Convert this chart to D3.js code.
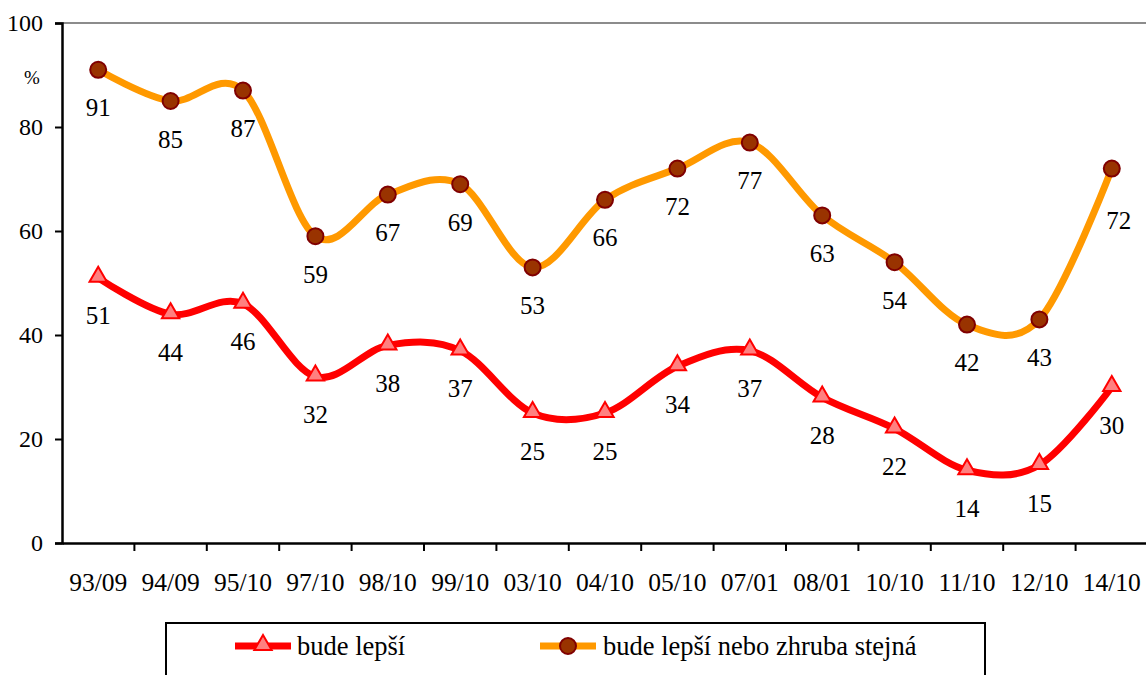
<!DOCTYPE html>
<html>
<head>
<meta charset="utf-8">
<script src="https://cdn.jsdelivr.net/npm/d3@7"></script>
<style>
  body { margin: 0; background: #fff; }
  svg text { font-family: "Liberation Serif", "Times New Roman", serif; }
</style>
</head>
<body>
<div id="chart"></div>
<script>
// survey periods (x axis)
var periods = ["93/09", "94/09", "95/10", "97/10", "98/10", "99/10", "03/10", "04/10",
               "05/10", "07/01", "08/01", "10/10", "11/10", "12/10", "14/10"];
// "bude lepší"
var better = [51, 44, 46, 32, 38, 37, 25, 25, 34, 37, 28, 22, 14, 15, 30];
// "bude lepší nebo zhruba stejná"
var betterOrSame = [91, 85, 87, 59, 67, 69, 53, 66, 72, 77, 63, 54, 42, 43, 72];
var yTicks = [0, 20, 40, 60, 80, 100];

var width = 1146, height = 675;
var colorRed = "#ff0000", colorOrange = "#ff9900";

var svg = d3.select("#chart").append("svg")
    .attr("width", width)
    .attr("height", height);

var x = d3.scaleBand()
    .domain(periods)
    .range([62, 1148]);

var y = d3.scaleLinear()
    .domain([0, 100])
    .range([543, 23]);

var cx = function(d, i) { return x(periods[i]) + x.bandwidth() / 2; };

// top frame line (grey)
svg.append("line")
    .attr("x1", 62).attr("x2", width)
    .attr("y1", y(100)).attr("y2", y(100))
    .style("stroke", "#8c8c8c")
    .style("stroke-width", 2);

// y axis
var yAxis = svg.append("g")
    .attr("transform", "translate(62,0)")
    .call(d3.axisLeft(y).tickValues(yTicks).tickSize(7).tickPadding(12));
yAxis.attr("font-family", null);
yAxis.select(".domain").style("stroke-width", 2.5);
yAxis.selectAll(".tick line").style("stroke-width", 2);
yAxis.selectAll(".tick text")
    .style("font-size", "24px");

svg.append("text")
    .attr("x", 32).attr("y", 77)
    .attr("text-anchor", "middle")
    .attr("dominant-baseline", "central")
    .style("font-size", "19px")
    .text("%");

// x axis, ticks between categories
var xAxis = svg.append("g")
    .attr("transform", "translate(0," + y(0) + ")")
    .call(d3.axisBottom(x).tickSize(0).tickPadding(30));
xAxis.attr("font-family", null);
xAxis.select(".domain").style("stroke-width", 2.5);
xAxis.selectAll(".tick text")
    .style("font-size", "25.5px");
xAxis.selectAll(".sep")
    .data(periods.slice(1))
    .enter().append("line")
    .attr("class", "sep")
    .attr("x1", function(d) { return x(d); })
    .attr("x2", function(d) { return x(d); })
    .attr("y1", 0).attr("y2", 8)
    .style("stroke", "#000")
    .style("stroke-width", 2);

var line = d3.line()
    .x(cx)
    .y(function(d) { return y(d); })
    .curve(d3.curveCatmullRom.alpha(0));

var triangle = d3.symbol().type(d3.symbolTriangle).size(130);

// orange series
svg.append("path")
    .datum(betterOrSame)
    .attr("d", line)
    .style("fill", "none")
    .style("stroke", colorOrange)
    .style("stroke-width", 7);

svg.selectAll(".dot")
    .data(betterOrSame)
    .enter().append("circle")
    .attr("class", "dot")
    .attr("cx", cx)
    .attr("cy", function(d) { return y(d); })
    .attr("r", 8)
    .style("fill", "#993300")
    .style("stroke", "#800000")
    .style("stroke-width", 2);

// red series
svg.append("path")
    .datum(better)
    .attr("d", line)
    .style("fill", "none")
    .style("stroke", colorRed)
    .style("stroke-width", 7);

svg.selectAll(".tri")
    .data(better)
    .enter().append("path")
    .attr("class", "tri")
    .attr("d", triangle)
    .attr("transform", function(d, i) { return "translate(" + cx(d, i) + "," + (y(d) - 1) + ")"; })
    .style("fill", "#ff8080")
    .style("stroke", colorRed)
    .style("stroke-width", 2);

// data labels, below the markers (last orange one sits right of the line)
function addLabels(values, cls) {
    svg.selectAll("." + cls)
        .data(values)
        .enter().append("text")
        .attr("class", cls)
        .attr("x", function(d, i) {
            var last = cls === "lblO" && i === values.length - 1;
            return cx(d, i) + (last ? 7 : 0);
        })
        .attr("y", function(d, i) {
            var last = cls === "lblO" && i === values.length - 1;
            return y(d) + (last ? 52 : 38);
        })
        .attr("text-anchor", "middle")
        .attr("dominant-baseline", "central")
        .style("font-size", "25px")
        .text(function(d) { return d; });
}
addLabels(betterOrSame, "lblO");
addLabels(better, "lblR");

// legend
var legend = svg.append("g");
legend.append("rect")
    .attr("x", 166).attr("y", 623)
    .attr("width", 819).attr("height", 80)
    .style("fill", "#fff")
    .style("stroke", "#000")
    .style("stroke-width", 2);

var ly = 646;
legend.append("line")
    .attr("x1", 235).attr("x2", 291).attr("y1", ly).attr("y2", ly)
    .style("stroke", colorRed).style("stroke-width", 7);
legend.append("path")
    .attr("d", triangle)
    .attr("transform", "translate(263," + (ly - 1) + ")")
    .style("fill", "#ff8080").style("stroke", colorRed).style("stroke-width", 2);
legend.append("text")
    .attr("x", 297).attr("y", ly)
    .attr("dominant-baseline", "central")
    .style("font-size", "26.5px")
    .text("bude lepší");

legend.append("line")
    .attr("x1", 540).attr("x2", 596).attr("y1", ly).attr("y2", ly)
    .style("stroke", colorOrange).style("stroke-width", 7);
legend.append("circle")
    .attr("cx", 568).attr("cy", ly).attr("r", 8)
    .style("fill", "#993300").style("stroke", "#800000").style("stroke-width", 2);
legend.append("text")
    .attr("x", 603).attr("y", ly)
    .attr("dominant-baseline", "central")
    .style("font-size", "26.5px")
    .text("bude lepší nebo zhruba stejná");
</script>
</body>
</html>
